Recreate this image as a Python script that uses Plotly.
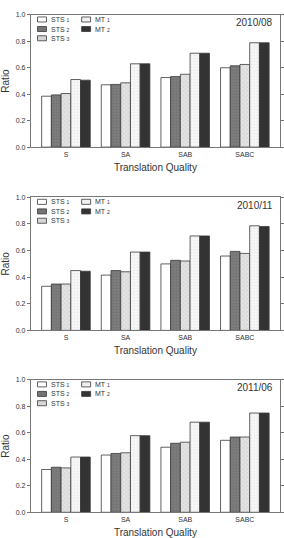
import plotly.graph_objects as go

categories = ["S", "SA", "SAB", "SABC"]
panel_titles = ["2010/08", "2010/11", "2011/06"]
SUB = "<span style='font-size:5px'>{}</span>"
series_names = ["STS " + SUB.format(1), "STS " + SUB.format(2), "STS " + SUB.format(3),
                "MT " + SUB.format(1), "MT " + SUB.format(2)]

# 2010/08
p1_sts1 = [0.385, 0.471, 0.526, 0.600]
p1_sts2 = [0.395, 0.474, 0.533, 0.615]
p1_sts3 = [0.405, 0.486, 0.551, 0.625]
p1_mt1 = [0.511, 0.630, 0.710, 0.789]
p1_mt2 = [0.506, 0.630, 0.710, 0.789]
# 2010/11
p2_sts1 = [0.331, 0.415, 0.499, 0.558]
p2_sts2 = [0.348, 0.449, 0.526, 0.593]
p2_sts3 = [0.348, 0.440, 0.521, 0.578]
p2_mt1 = [0.449, 0.588, 0.709, 0.785]
p2_mt2 = [0.444, 0.588, 0.709, 0.780]
# 2011/06
p3_sts1 = [0.323, 0.432, 0.491, 0.543]
p3_sts2 = [0.340, 0.444, 0.521, 0.568]
p3_sts3 = [0.335, 0.449, 0.529, 0.568]
p3_mt1 = [0.417, 0.578, 0.680, 0.749]
p3_mt2 = [0.417, 0.578, 0.680, 0.749]

panels = [
    [p1_sts1, p1_sts2, p1_sts3, p1_mt1, p1_mt2],
    [p2_sts1, p2_sts2, p2_sts3, p2_mt1, p2_mt2],
    [p3_sts1, p3_sts2, p3_sts3, p3_mt1, p3_mt2],
]

W, H = 284, 538
FONT = "Liberation Sans, Arial, sans-serif"
TXT = "#333333"
EDGE = "#3a3a3a"

styles = [
    dict(color="#ffffff", swatch="#ffffff", pattern=None),
    dict(color="#7a7a7a", swatch="#747474",
         pattern=dict(shape=".", fgcolor="#5e5e5e", bgcolor="#7e7e7e", size=3, solidity=0.3)),
    dict(color="#d9d9d9", swatch="#d6d6d6",
         pattern=dict(shape="x", fgcolor="#a8a8a8", bgcolor="#e4e4e4", size=3, solidity=0.25)),
    dict(color="#f3f3f3", swatch="#f0f0f0",
         pattern=dict(shape=".", fgcolor="#d0d0d0", bgcolor="#f7f7f7", size=3, solidity=0.2)),
    dict(color="#333333", swatch="#333333", pattern=None),
]

# plot-area pixel geometry (top, bottom) for each panel
tops = [11, 195.7, 380.7]
bottoms = [145, 330.7, 515]
left_px, right_px = 31, 282

# legend geometry in axis-domain fractions
leg_rows_y = [0.965, 0.893, 0.823]
leg_half_h = 0.019
leg_cols = [(0.027, 0.063, 0.073), (0.204, 0.240, 0.250)]  # swatch x0, x1, text x

fig = go.Figure()
layout = dict(
    width=W, height=H,
    margin=dict(l=0, r=0, t=0, b=0),
    paper_bgcolor="white", plot_bgcolor="white",
    font=dict(family=FONT, color=TXT, size=7),
    barmode="group", bargap=0.185, bargroupgap=0,
    showlegend=False,
)
annotations = []
shapes = []

for p in range(3):
    sfx = "" if p == 0 else str(p + 1)
    xd = ("x" + sfx) + " domain"
    yd = ("y" + sfx) + " domain"
    for s in range(5):
        st = styles[s]
        marker = dict(color=st["color"], line=dict(color=EDGE, width=0.8))
        if st["pattern"] is not None:
            marker["pattern"] = st["pattern"]
        fig.add_trace(go.Bar(
            x=categories, y=panels[p][s], name=series_names[s],
            marker=marker, xaxis="x" + sfx, yaxis="y" + sfx,
        ))
        col = 0 if s < 3 else 1
        row = s if s < 3 else s - 3
        sx0, sx1, tx = leg_cols[col]
        ry = leg_rows_y[row]
        shapes.append(dict(
            type="rect", xref=xd, yref=yd, x0=sx0, x1=sx1,
            y0=ry - leg_half_h, y1=ry + leg_half_h,
            fillcolor=st["swatch"], line=dict(color=EDGE, width=0.8), layer="above",
        ))
        annotations.append(dict(
            text=series_names[s], xref=xd, yref=yd, x=tx, y=ry,
            xanchor="left", yanchor="middle", showarrow=False,
            font=dict(size=7, color=TXT, family=FONT),
        ))
    y0 = 1 - bottoms[p] / H
    y1 = 1 - tops[p] / H
    layout["xaxis" + sfx] = dict(
        domain=[left_px / W, right_px / W], anchor="y" + sfx,
        range=[-0.59, 3.59], showline=True, mirror=True,
        linecolor="#777777", linewidth=1, ticks="", showgrid=False,
        tickfont=dict(size=7, color=TXT, family=FONT),
        title=dict(text="Translation Quality", font=dict(size=10, color=TXT, family=FONT), standoff=7),
    )
    layout["yaxis" + sfx] = dict(
        domain=[y0, y1], anchor="x" + sfx,
        range=[0, 1.0], dtick=0.2, tickformat=".1f",
        showline=True, mirror="ticks", linecolor="#777777", linewidth=1,
        ticks="outside", ticklen=3, tickcolor="#777777", showgrid=False, zeroline=False,
        tickfont=dict(size=7, color=TXT, family=FONT),
        title=dict(text="Ratio", font=dict(size=10, color=TXT, family=FONT), standoff=5),
    )
    annotations.append(dict(
        text=panel_titles[p], xref=xd, yref=yd,
        x=0.98, y=0.94, xanchor="right", yanchor="middle", showarrow=False,
        font=dict(size=10, color=TXT, family=FONT),
    ))

layout["annotations"] = annotations
layout["shapes"] = shapes
fig.update_layout(**layout)
fig.write_html("out.html")
